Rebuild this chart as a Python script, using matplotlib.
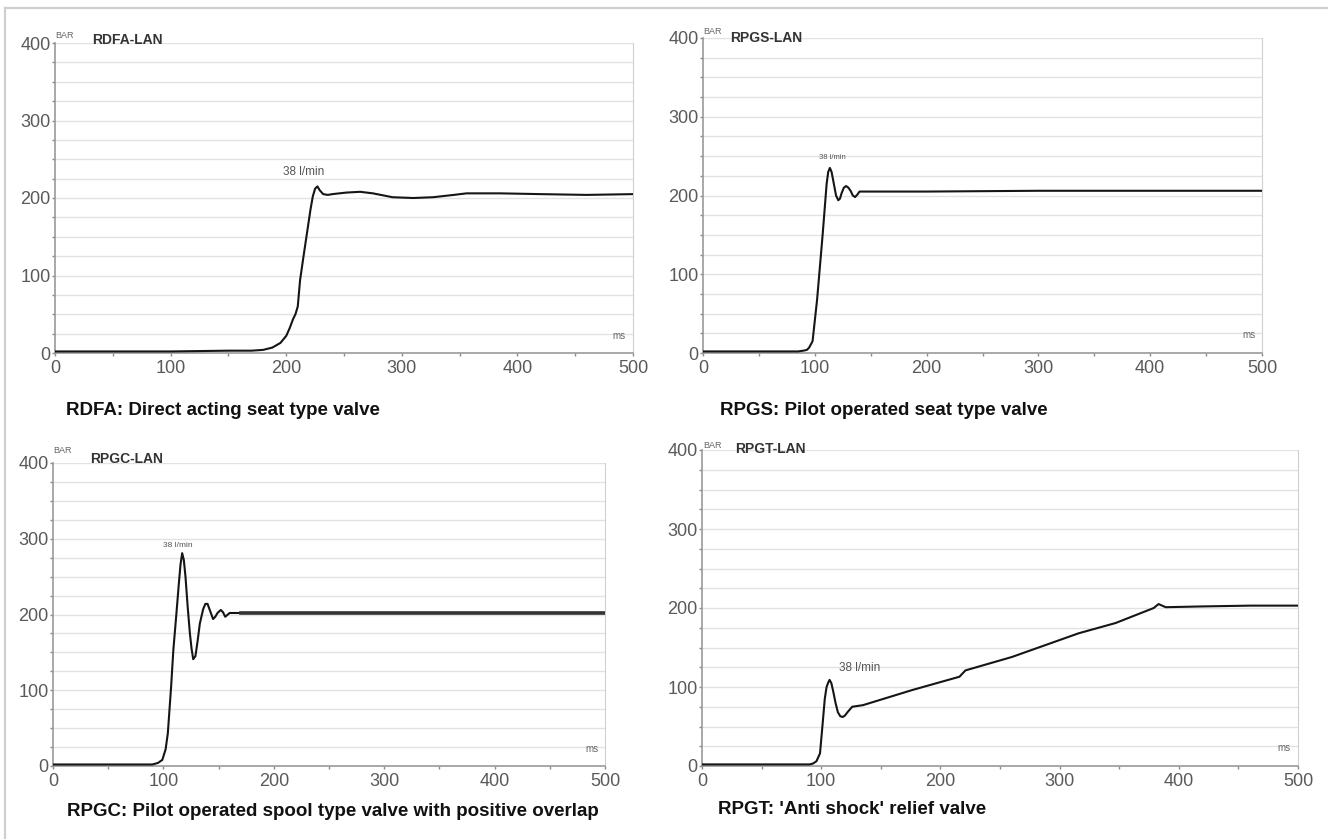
import matplotlib
matplotlib.use('Agg')
import matplotlib.pyplot as plt
from matplotlib.lines import Line2D
from matplotlib.ticker import MultipleLocator

plt.rcParams['font.family'] = ['Liberation Sans', 'DejaVu Sans']

W, H = 1328, 839

# pressure traces, time in ms, pressure in bar
rdfa_t = [0, 50, 100, 150, 170, 180, 188, 195, 200, 203, 206, 208, 210, 212, 215, 218, 221, 223,
          225, 227, 229, 232, 236, 240, 252, 264, 275, 292, 310, 327, 345, 356, 385, 420, 460, 500]
rdfa_p = [2, 2, 2, 3, 3, 4, 7, 13, 22, 32, 44, 50, 60, 94, 125, 155, 185, 202,
          212, 215, 210, 205, 204, 205, 207, 208, 206, 201, 200, 201, 204, 206, 206, 205, 204, 205]

rpgs_t = [0, 50, 85, 90, 93, 95, 98, 102, 107, 110.6, 112, 113.5, 115, 117, 119, 121, 122.5,
          124, 126, 128, 130, 132, 134, 136, 138, 140, 150, 200, 300, 400, 500]
rpgs_p = [2, 2, 2, 3, 4, 7, 15, 67, 150, 215, 230, 235, 230, 215, 200, 194, 196,
          203, 210, 212, 210, 206, 200, 198, 201, 205, 205, 205, 206, 206, 206]

rpgc_t = [0, 50, 90, 95, 99, 102, 104, 107, 109, 112, 114, 115.5, 117, 118.5, 120, 122, 124, 125.5,
          127, 129, 131, 133, 136, 138, 140, 142, 145, 147, 149, 152, 154, 156, 160, 170, 200, 300,
          400, 500]
rpgc_p = [2, 2, 2, 4, 8, 22, 43, 105, 153, 205, 241, 266, 281, 272, 250, 210, 175, 155,
          141, 145, 165, 188, 207, 214, 214, 206, 194, 197, 202, 206, 203, 197, 202, 202, 202, 202,
          202, 202]

rpgt_t = [0, 50, 90, 93, 96, 99, 101, 103, 104.5, 106, 107, 108.5, 110, 112, 114, 116, 118, 120,
          122, 126, 135, 176, 216, 221, 260, 316, 347, 379, 383, 389, 420, 460, 500]
rpgt_p = [2, 2, 2, 3, 6, 16, 50, 85, 100, 106, 109, 105, 95, 80, 68, 63, 62, 64,
          68, 75, 77, 96, 113, 121, 138, 168, 181, 200, 205, 201, 202, 203, 203]

names = ['RDFA-LAN', 'RPGS-LAN', 'RPGC-LAN', 'RPGT-LAN']
captions = ['RDFA: Direct acting seat type valve',
            'RPGS: Pilot operated seat type valve',
            'RPGC: Pilot operated spool type valve with positive overlap',
            "RPGT: 'Anti shock' relief valve"]
flow_label = '38 l/min'
flow_pos = [(215, 226), (116, 244), (113, 286), (132, 116)]
flow_size = [8.5, 5.5, 6, 8.5]

# pixel boxes: left, right, top, bottom
boxes = [(55, 633, 43, 353), (703, 1262, 38, 353), (53, 605, 463, 766), (702, 1298, 450, 766)]
bar_off = [(0, 3), (0, 2), (0, 8), (1, 0)]
name_off = [(37, -1), (27, -4), (37, 0), (33, -3)]
cap_xy = [(66, 410), (720, 411), (67, 812), (718, 810)]

series = [(rdfa_t, rdfa_p), (rpgs_t, rpgs_p), (rpgc_t, rpgc_p), (rpgt_t, rpgt_p)]

fig = plt.figure(figsize=(W / 100, H / 100), dpi=100)

# light frame round the picture
fig.add_artist(Line2D([5 / W, 5 / W], [0, 1 - 8 / H], transform=fig.transFigure, color='#cfcfcf', lw=1.6))
fig.add_artist(Line2D([5 / W, 1], [1 - 8 / H, 1 - 8 / H], transform=fig.transFigure, color='#cfcfcf', lw=1.6))

for i, (t, p) in enumerate(series):
    l, r, top, bot = boxes[i]
    ax = fig.add_axes([l / W, 1 - bot / H, (r - l) / W, (bot - top) / H])
    ax.set_xlim(0, 500)
    ax.set_ylim(0, 400)
    for y in range(25, 401, 25):
        ax.axhline(y, color='#e2e2e2', lw=1, zorder=0)
    ax.plot(t, p, color='#151515', lw=1.5, zorder=3, solid_joinstyle='round')
    if i == 2:
        # the settled part of the spool valve trace is a thicker noisy band
        k = t.index(170)
        ax.plot(t[k:], p[k:], color='#333333', lw=2.6, zorder=3)

    ax.xaxis.set_major_locator(MultipleLocator(100))
    ax.xaxis.set_minor_locator(MultipleLocator(50))
    ax.yaxis.set_major_locator(MultipleLocator(100))
    ax.yaxis.set_minor_locator(MultipleLocator(25))
    ax.tick_params(which='both', length=2, width=1, color='#8a8a8a', labelsize=13,
                   labelcolor='#5a5a5a', pad=3)
    ax.tick_params(axis='y', pad=1)
    for s in ['left', 'bottom']:
        ax.spines[s].set_color('#9a9a9a')
        ax.spines[s].set_linewidth(1.2)
    ax.spines['right'].set_color('#d0d0d0')
    ax.spines['top'].set_visible(False)

    ax.annotate('BAR', xy=(0, 1), xycoords='axes fraction', xytext=bar_off[i],
                textcoords='offset pixels', fontsize=6.5, color='#666666', va='bottom', ha='left')
    ax.annotate(names[i], xy=(0, 1), xycoords='axes fraction', xytext=name_off[i],
                textcoords='offset pixels', fontsize=10, fontweight='bold', color='#333333',
                va='baseline', ha='left')
    ax.text(488, 16, 'ms', fontsize=7, color='#666666', ha='center', va='bottom')
    ax.text(flow_pos[i][0], flow_pos[i][1], flow_label, fontsize=flow_size[i], color='#555555',
            ha='center', va='bottom')

    fig.text(cap_xy[i][0] / W, 1 - cap_xy[i][1] / H, captions[i], fontsize=13.5, fontweight='bold',
             color='#111111', ha='left', va='center')

fig.savefig('out.png', dpi=100)
